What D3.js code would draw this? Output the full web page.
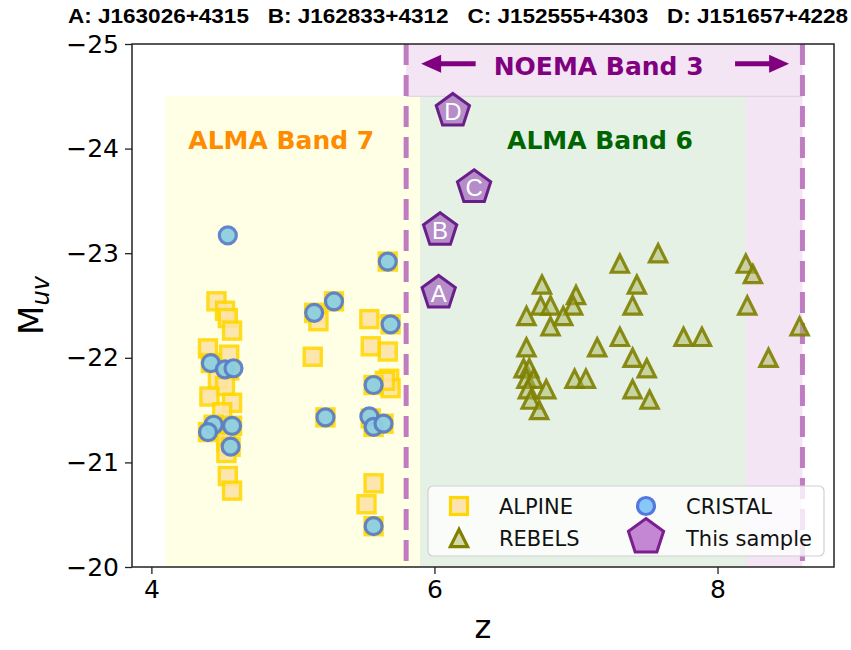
<!DOCTYPE html>
<html>
<head>
<meta charset="utf-8">
<script src="https://cdn.jsdelivr.net/npm/d3@7"></script>
<style>
  body { margin: 0; background: #fff; }
  svg { display: block; font-family: "DejaVu Sans", sans-serif; }
</style>
</head>
<body>
<div id="chart"></div>
<script>
// ALPINE (squares)
var alpineZ = [4.46, 4.52, 4.54, 4.57, 4.40, 4.55, 4.42, 4.55, 4.47, 4.52, 4.41, 4.57, 4.50, 4.44, 4.40, 4.57, 4.53, 4.56, 4.53, 4.54, 4.57,
               5.29, 5.15, 5.18, 5.14, 5.23,
               5.54, 5.69, 5.55, 5.67, 5.68, 5.69, 5.65, 5.57, 5.55, 5.57, 5.64, 5.57, 5.52, 5.57, 5.67];
var alpineM = [-22.54, -22.45, -22.38, -22.26, -22.09, -22.03, -21.95, -21.88, -21.79, -21.73, -21.63, -21.57, -21.48, -21.36, -21.29, -21.35, -21.20, -21.15, -21.09, -20.87, -20.73,
               -22.54, -22.43, -22.35, -22.01, -21.43,
               -22.37, -22.32, -22.11, -22.06, -21.80, -21.71, -21.78, -21.74, -21.42, -21.34, -21.37, -20.80, -20.60, -20.39, -22.92];

// CRISTAL (circles)
var cristalZ = [4.54, 4.42, 4.52, 4.58, 4.44, 4.40, 4.57, 4.56, 5.29, 5.15, 5.23, 5.69, 5.57, 5.54, 5.57, 5.64, 5.57, 5.67];
var cristalM = [-23.17, -21.95, -21.89, -21.90, -21.36, -21.29, -21.35, -21.15, -22.54, -22.43, -21.43, -22.32, -21.74, -21.44, -21.34, -21.37, -20.39, -22.92];

// REBELS (triangles)
var rebelsZ = [7.31, 7.58, 8.20, 8.25, 6.76, 7.43, 7.00, 6.75, 6.82, 6.98, 7.40, 8.21, 6.65, 6.91, 6.82, 8.58, 7.31, 7.76, 7.89,
               6.65, 7.15, 7.40, 8.36, 7.50, 6.63, 6.67, 6.65, 6.70, 6.99, 7.07, 6.79, 6.66, 7.40, 6.68, 7.52, 6.74];
var rebelsM = [-22.90, -23.00, -22.90, -22.80, -22.70, -22.70, -22.60, -22.50, -22.50, -22.50, -22.50, -22.50, -22.40, -22.40, -22.30, -22.30, -22.20, -22.20, -22.20,
               -22.10, -22.10, -22.00, -22.00, -21.90, -21.90, -21.90, -21.80, -21.80, -21.80, -21.80, -21.70, -21.70, -21.70, -21.60, -21.60, -21.50];

// This sample (pentagons)
var sampleLabels = ["A", "B", "C", "D"];
var sampleZ = [6.03, 6.04, 6.28, 6.13];
var sampleM = [-22.62, -23.22, -23.63, -24.36];
var sampleNames = ["J163026+4315", "J162833+4312", "J152555+4303", "J151657+4228"];

// band coverage
var band7 = [4.1, 5.9];
var band6 = [5.9, 8.2];
var noema = [5.8, 8.6];
var bandTop = -24.5;

var xTicks = [4, 6, 8];
var yTicks = [-25, -24, -23, -22, -21, -20];

var w = 851, h = 650;
var margin = {top: 44, right: 17, bottom: 83, left: 132};

var svg = d3.select("#chart").append("svg")
  .attr("width", w)
  .attr("height", h);

var x = d3.scaleLinear().domain([3.863, 8.823]).range([margin.left, w - margin.right]);
var y = d3.scaleLinear().domain([-20, -25]).range([h - margin.bottom, margin.top]);

function zip(a, b) {
  return a.map(function(d, i) { return [d, b[i]]; });
}

// shaded regions
svg.append("rect")
  .attr("x", x(noema[0])).attr("y", y(-25))
  .attr("width", x(noema[1]) - x(noema[0])).attr("height", y(-20) - y(-25))
  .attr("fill", "#f3e5f3");
svg.append("rect")
  .attr("x", x(band7[0])).attr("y", y(bandTop))
  .attr("width", x(band7[1]) - x(band7[0])).attr("height", y(-20) - y(bandTop))
  .attr("fill", "#ffffe5");
svg.append("rect")
  .attr("x", x(band6[0])).attr("y", y(bandTop))
  .attr("width", x(band6[1]) - x(band6[0])).attr("height", y(-20) - y(bandTop))
  .attr("fill", "#e5f1e4");
svg.append("line")
  .attr("x1", x(noema[0])).attr("x2", x(noema[1]))
  .attr("y1", y(bandTop)).attr("y2", y(bandTop))
  .attr("stroke", "#ddd0dd").attr("stroke-width", 1);

// dashed NOEMA limits
svg.selectAll("line.noema")
  .data(noema)
  .enter()
  .append("line")
  .attr("class", "noema")
  .attr("x1", function(d) { return x(d); })
  .attr("x2", function(d) { return x(d); })
  .attr("y1", y(-25)).attr("y2", y(-20))
  .attr("stroke", "#c07cc0")
  .attr("stroke-width", 5)
  .attr("stroke-dasharray", "21,10");

// arrows + band labels
var arrowY = y(-24.81);
function arrow(z0, z1) {
  var x0 = x(z0), x1 = x(z1), dir = x1 > x0 ? 1 : -1;
  var head = 20;
  svg.append("line")
    .attr("x1", x0).attr("x2", x1 - dir * head + dir * 2)
    .attr("y1", arrowY).attr("y2", arrowY)
    .attr("stroke", "#800080").attr("stroke-width", 5);
  svg.append("path")
    .attr("d", "M" + x1 + "," + arrowY + "L" + (x1 - dir * head) + "," + (arrowY - 9) +
               "L" + (x1 - dir * head) + "," + (arrowY + 9) + "Z")
    .attr("fill", "#800080");
}
arrow(6.291, 5.906);
arrow(8.124, 8.506);

svg.append("text")
  .attr("x", x(7.16)).attr("y", y(-24.70))
  .attr("text-anchor", "middle")
  .attr("font-size", "25px").attr("font-weight", "bold")
  .attr("fill", "#800080")
  .text("NOEMA Band 3");
svg.append("text")
  .attr("x", x(4.918)).attr("y", y(-24.0))
  .attr("text-anchor", "middle")
  .attr("font-size", "25px").attr("font-weight", "bold")
  .attr("fill", "#ff8c00")
  .text("ALMA Band 7");
svg.append("text")
  .attr("x", x(7.17)).attr("y", y(-24.0))
  .attr("text-anchor", "middle")
  .attr("font-size", "25px").attr("font-weight", "bold")
  .attr("fill", "#006400")
  .text("ALMA Band 6");

// markers
function pentagon(r) {
  var pts = d3.range(5).map(function(i) {
    var a = -Math.PI / 2 + i * 2 * Math.PI / 5;
    return [r * Math.cos(a), r * Math.sin(a)];
  });
  return "M" + pts.join("L") + "Z";
}
function triangle(r) {
  return "M0," + (-r) + "L" + (-r) + "," + r + "L" + r + "," + r + "Z";
}

svg.selectAll("rect.alpine")
  .data(zip(alpineZ, alpineM))
  .enter()
  .append("rect")
  .attr("class", "alpine")
  .attr("x", function(d) { return x(d[0]) - 8.5; })
  .attr("y", function(d) { return y(d[1]) - 8.5; })
  .attr("width", 17).attr("height", 17)
  .attr("fill", "#fde3a6")
  .attr("stroke", "#ffd700")
  .attr("stroke-width", 3.4)
  .attr("opacity", 0.88);

svg.selectAll("path.rebels")
  .data(zip(rebelsZ, rebelsM))
  .enter()
  .append("path")
  .attr("class", "rebels")
  .attr("transform", function(d) { return "translate(" + x(d[0]) + "," + y(d[1]) + ")"; })
  .attr("d", triangle(8.6))
  .attr("fill", "#a8b860").attr("fill-opacity", 0.5)
  .attr("stroke", "#808000").attr("stroke-opacity", 0.9)
  .attr("stroke-width", 3.2)
  .attr("stroke-linejoin", "miter");

svg.selectAll("circle.cristal")
  .data(zip(cristalZ, cristalM))
  .enter()
  .append("circle")
  .attr("class", "cristal")
  .attr("cx", function(d) { return x(d[0]); })
  .attr("cy", function(d) { return y(d[1]); })
  .attr("r", 8.5)
  .attr("fill", "#8ecfe0")
  .attr("stroke", "#5b7fc8")
  .attr("stroke-width", 3.2)
  .attr("opacity", 0.95);

var samples = svg.selectAll("g.sample")
  .data(sampleLabels)
  .enter()
  .append("g")
  .attr("class", "sample")
  .attr("transform", function(d, i) { return "translate(" + x(sampleZ[i]) + "," + y(sampleM[i]) + ")"; });
samples.append("path")
  .attr("d", pentagon(17.5))
  .attr("fill", "#a46bc0").attr("fill-opacity", 0.75)
  .attr("stroke", "#6a1f88")
  .attr("stroke-width", 3)
  .attr("stroke-linejoin", "miter");
samples.append("text")
  .attr("text-anchor", "middle")
  .attr("y", 9)
  .attr("font-family", "'Liberation Sans', Arial, sans-serif")
  .attr("font-size", "24px")
  .attr("fill", "#fff")
  .text(function(d) { return d; });

// frame and axes
svg.append("rect")
  .attr("x", margin.left).attr("y", margin.top)
  .attr("width", w - margin.left - margin.right)
  .attr("height", h - margin.top - margin.bottom)
  .attr("fill", "none")
  .attr("stroke", "#222")
  .attr("stroke-width", 1.5);

var xAxis = svg.append("g")
  .attr("transform", "translate(0," + (h - margin.bottom) + ")")
  .call(d3.axisBottom(x).tickValues(xTicks).tickFormat(d3.format("d")).tickSize(7).tickPadding(6));
var yAxis = svg.append("g")
  .attr("transform", "translate(" + margin.left + ",0)")
  .call(d3.axisLeft(y).tickValues(yTicks).tickFormat(d3.format("d")).tickSize(7).tickPadding(6));
[xAxis, yAxis].forEach(function(g) {
  g.select(".domain").remove();
  g.selectAll(".tick line").attr("stroke", "#222").attr("stroke-width", 1.3);
  g.selectAll(".tick text")
    .attr("font-family", "'DejaVu Sans', sans-serif")
    .attr("font-size", "25px")
    .attr("fill", "#000");
});

svg.append("text")
  .attr("x", (margin.left + w - margin.right) / 2)
  .attr("y", 638)
  .attr("text-anchor", "middle")
  .attr("font-size", "32px")
  .text("z");

var ylab = svg.append("text")
  .attr("transform", "translate(43," + ((margin.top + h - margin.bottom) / 2) + ") rotate(-90)")
  .attr("text-anchor", "middle")
  .attr("font-size", "34px");
ylab.append("tspan").text("M");
ylab.append("tspan")
  .attr("font-size", "24px").attr("font-style", "italic")
  .attr("dy", 6)
  .text("uv");

// title
svg.append("text")
  .attr("x", 458)
  .attr("y", 23)
  .attr("text-anchor", "middle")
  .attr("font-family", "'Liberation Sans', Arial, sans-serif")
  .attr("font-weight", "bold")
  .attr("font-size", "21px")
  .attr("textLength", 780)
  .attr("lengthAdjust", "spacingAndGlyphs")
  .attr("xml:space", "preserve")
  .text(sampleLabels.map(function(d, i) { return d + ": " + sampleNames[i]; }).join("   "));

// legend
var lg = svg.append("g").attr("transform", "translate(428,486)");
lg.append("rect")
  .attr("width", 396).attr("height", 70)
  .attr("rx", 5)
  .attr("fill", "#fff").attr("fill-opacity", 0.8)
  .attr("stroke", "#d0d0d0").attr("stroke-width", 1.2);
var items = [
  {label: "ALPINE", col: 0, row: 0},
  {label: "CRISTAL", col: 1, row: 0},
  {label: "REBELS", col: 0, row: 1},
  {label: "This sample", col: 1, row: 1}
];
var item = lg.selectAll("g.item")
  .data(items)
  .enter()
  .append("g")
  .attr("transform", function(d) { return "translate(" + (31 + d.col * 187) + "," + (20 + d.row * 32) + ")"; });
item.append("text")
  .attr("x", 40).attr("y", 7.5)
  .attr("font-size", "21px")
  .attr("fill", "#111")
  .text(function(d) { return d.label; });
item.each(function(d) {
  var g = d3.select(this);
  if (d.label === "ALPINE") {
    g.append("rect").attr("x", -8.5).attr("y", -8.5).attr("width", 17).attr("height", 17)
      .attr("fill", "#fde3b0").attr("stroke", "#ffd700").attr("stroke-width", 3.2);
  } else if (d.label === "CRISTAL") {
    g.append("circle").attr("r", 8.5)
      .attr("fill", "#87c8f8").attr("stroke", "#5577e0").attr("stroke-width", 3.2);
  } else if (d.label === "REBELS") {
    g.append("path").attr("d", triangle(8.6))
      .attr("fill", "#d3d9a8").attr("stroke", "#808000").attr("stroke-width", 3.2);
  } else {
    g.append("path").attr("d", pentagon(18.5)).attr("transform", "translate(0,-1)")
      .attr("fill", "#c387d4").attr("stroke", "#7b1e8e").attr("stroke-width", 3);
  }
});
</script>
</body>
</html>
